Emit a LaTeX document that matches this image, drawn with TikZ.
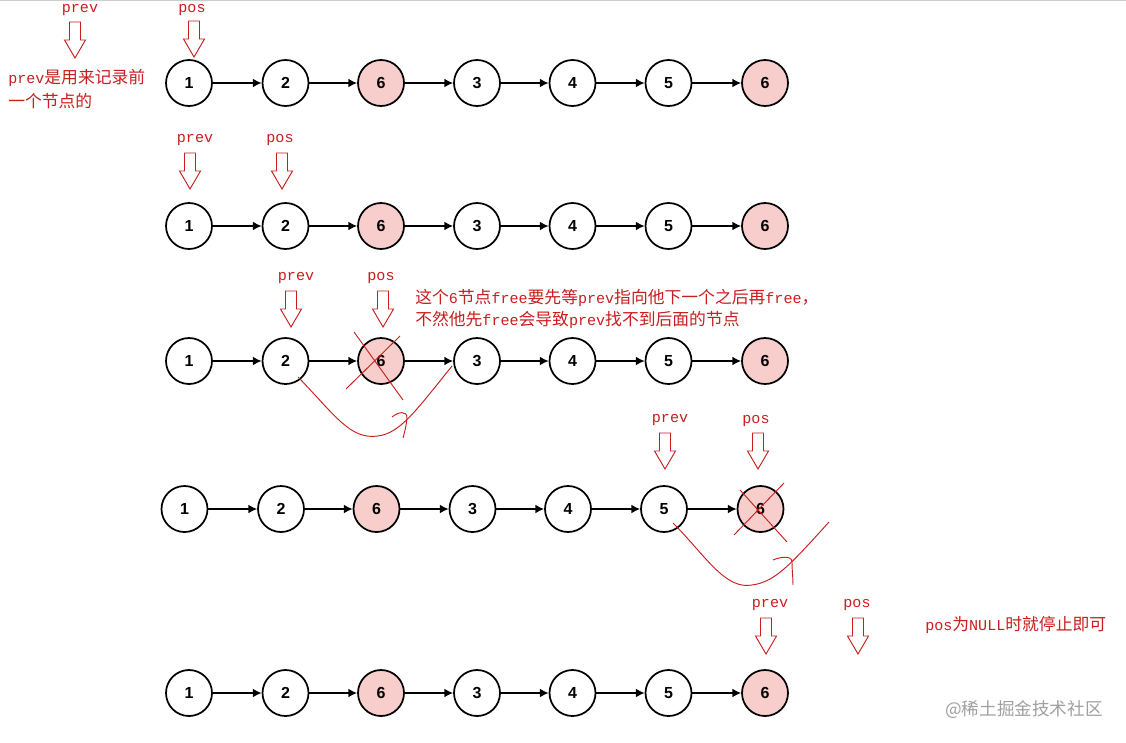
\documentclass[tikz,border=0pt]{standalone}
\usepackage{fontspec}
\setmainfont{Liberation Sans}
\newfontfamily\cjkfont{Noto Sans CJK SC}
\newfontfamily\monofont{Liberation Mono}
\usetikzlibrary{arrows.meta}
\definecolor{annot}{RGB}{200,30,30}
\definecolor{pinkfill}{RGB}{248,206,204}
\definecolor{wm}{RGB}{160,160,160}
\newcommand{\zhtxt}[1]{{\cjkfont\fontsize{12.6}{15}\selectfont #1}}
\newcommand{\latx}[1]{{\monofont\fontsize{11.3}{15}\selectfont #1}}
\tikzset{
  nd/.style={circle,draw=black,line width=1.3pt,fill=white,minimum size=34.5pt,inner sep=0pt,font=\fontsize{12}{14}\selectfont\bfseries},
  pk/.style={nd,fill=pinkfill},
  edge/.style={line width=1.1pt,-{Latex[length=6.5pt,width=6.5pt]}},
  lbl/.style={inner sep=0pt,text=annot,font=\monofont\fontsize{11.3}{13}\selectfont},
  note/.style={inner sep=0pt,text=annot,anchor=west},
  redline/.style={draw=annot,line width=0.7pt},
  dn/.pic={\draw[redline,line join=miter] (-5.5,0) -- (5.5,0) -- (5.5,18) -- (10.5,18) -- (0,36) -- (-10.5,18) -- (-5.5,18) -- cycle;}
}
\begin{document}
\begin{tikzpicture}[x=0.75pt,y=-0.75pt]
\useasboundingbox (0,0) rectangle (1126,742);
\fill[white] (0,0) rectangle (1126,742);
\draw[gray!40,line width=0.8pt] (0,0.6) -- (1126,0.6);
% nodes
\foreach \r/\y/\dx in {1/83/0,2/226/0,3/361/0,4/509/-4.5,5/693/0}{
  \foreach \i/\x/\t/\s in {1/189/1/nd,2/285.5/2/nd,3/381/6/pk,4/477/3/nd,5/572.5/4/nd,6/668.5/5/nd,7/765/6/pk}{
    \node[\s] (n\r-\i) at (\x+\dx,\y) {\t};
  }
  \foreach \i [count=\j from 2] in {1,...,6}{
    \draw[edge] (n\r-\i) -- (n\r-\j);
  }
}
% row 1 labels
\node[lbl] (p1) at (80,10) {prev};
\node[lbl] (q1) at (192,10) {pos};
\pic at (75,22) {dn};
\pic at (194,21) {dn};
\node[note] (t1a) at (8,78) {\latx{prev}\zhtxt{是用来记录前}};
\node[note] (t1b) at (8,101) {\zhtxt{一个节点的}};
% row 2
\node[lbl] (p2) at (195,140) {prev};
\node[lbl] (q2) at (280,140) {pos};
\pic at (190,153) {dn};
\pic at (282,153) {dn};
% row 3
\node[lbl] (p3) at (296,278) {prev};
\node[lbl] (q3) at (381,278) {pos};
\pic at (291,291) {dn};
\pic at (383,291) {dn};
\node[note] (t3a) at (415,298) {\zhtxt{这个}\latx{6}\zhtxt{节点}\latx{free}\zhtxt{要先等}\latx{prev}\zhtxt{指向他下一个之后再}\latx{free}\zhtxt{，}};
\node[note] (t3b) at (415,320) {\zhtxt{不然他先}\latx{free}\zhtxt{会导致}\latx{prev}\zhtxt{找不到后面的节点}};
\draw[redline] (346,389) -- (400,336);
\draw[redline] (354,332) -- (403,400);
\draw[redline] (298,377) .. controls (335,415) and (350,440) .. (378,436) .. controls (400,433) and (415,412) .. (452,366);
\draw[redline] (392,417) .. controls (398,412) and (407,410) .. (407,418) .. controls (406,428) and (404,434) .. (403,438);
% row 4
\node[lbl] (p4) at (670,420) {prev};
\node[lbl] (q4) at (756,421) {pos};
\pic at (665,433) {dn};
\pic at (758,433) {dn};
\draw[redline] (734,535) -- (784,483);
\draw[redline] (740,490) -- (787,542);
\draw[redline] (673,523) .. controls (705,555) and (725,590) .. (752,585) .. controls (775,582) and (790,565) .. (829,522);
\draw[redline] (773,560) .. controls (780,557) and (792,555) .. (792,562) .. controls (792,570) and (793,578) .. (793,585);
% row 5
\node[lbl] (p5) at (770,605) {prev};
\node[lbl] (q5) at (857,605) {pos};
\pic at (766,618) {dn};
\pic at (858,618) {dn};
\node[note] (t5) at (925,625) {\latx{pos}\zhtxt{为}\latx{NULL}\zhtxt{时就停止即可}};
% watermark
\node[inner sep=0pt,anchor=west,text=wm] (wmk) at (945,710) {{\cjkfont\fontsize{13.2}{15}\selectfont @稀土掘金技术社区}};
\end{tikzpicture}
\end{document}
